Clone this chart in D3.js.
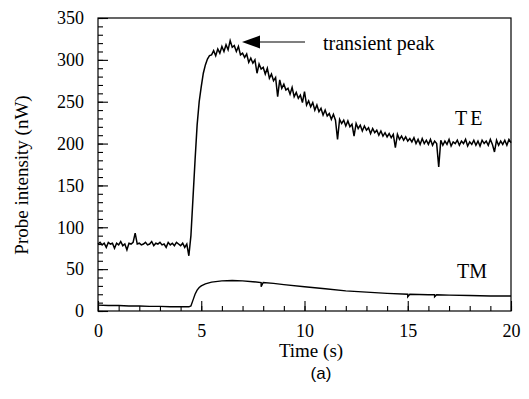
<html>
<head>
<script src="https://d3js.org/d3.v7.min.js"></script>
<style>
  body { margin: 0; background: white; }
  text { font-family: "Liberation Serif", "Times New Roman", serif; fill: black; }
</style>
</head>
<body>
<svg id="chart" width="529" height="399"></svg>
<script>
// TE probe, sampled every 0.1 s from 0 to 20 s
const teStep = 0.1;
const teValues = [
  80, 82, 79, 81, 76, 82, 80, 81, 75, 81,
  79, 83, 78, 80, 73, 81, 80, 82, 93, 80,
  81, 79, 80, 82, 79, 80, 83, 78, 81, 80,
  82, 79, 80, 76, 82, 79, 81, 78, 82, 80,
  78, 81, 76, 80, 66,
  90, 135, 180, 222, 250, 268, 284, 294, 301, 305,
  306, 311, 305, 313, 308, 316, 310, 318, 312,
  323, 315, 317, 310, 316, 306, 308, 303, 307, 297, 302,
  296, 300, 284, 295, 289, 291, 283, 290, 278, 283,
  275, 279, 256, 276, 266, 271, 264, 266, 259, 267,
  256, 261, 254, 258, 249, 262, 246, 251, 244, 249,
  240, 246, 238, 242, 234, 240, 233, 236, 229, 235,
  228, 205, 229, 224, 228, 221, 227, 220, 223, 209,
  224, 218, 222, 215, 221, 216, 219, 212, 218, 213,
  216, 210, 215, 209, 213, 208, 212, 207, 211, 195,
  211, 205, 209, 204, 208, 203, 206, 202, 207, 200,
  205, 199, 206, 200, 204, 199, 205, 198, 203, 200,
  172, 204, 198, 203, 199, 205, 197, 202, 200, 204,
  198, 203, 200, 205, 197, 202, 199, 204, 198, 203,
  197, 204, 200, 203, 198, 205, 199, 190, 204, 198,
  203, 199, 204, 198, 205, 201
];

// TM probe
const tmTime = [0, 0.5, 1, 1.5, 2, 2.5, 3, 3.5, 4, 4.4, 4.5, 4.6, 4.7, 4.8, 4.9, 5.0, 5.2, 5.5,
  6.0, 6.5, 7.0, 7.5, 7.9, 7.9, 8.0, 8.5, 9.0, 10, 11, 12, 13, 14, 15, 15, 15.1, 16, 16.3, 16.3, 16.4, 17, 18, 19, 20];
const tmValue = [7, 6.5, 6.5, 6, 6, 5.5, 5.5, 5, 5, 5, 6, 13, 20, 25, 28, 30, 32.5, 34.5,
  36, 36.5, 36, 35, 34, 29, 34, 33, 31.5, 29, 26.5, 24, 22.5, 21, 20, 17, 20, 19.5, 19.4, 17, 19.4, 19, 18.5, 18, 18];

const xMajor = [0, 5, 10, 15, 20];
const yMajor = [0, 50, 100, 150, 200, 250, 300, 350];

const svg = d3.select("#chart");
const plotLeft = 98, plotRight = 511, plotTop = 18, plotBottom = 311;

const x = d3.scaleLinear().domain([0, 20]).range([plotLeft, plotRight]);
const y = d3.scaleLinear().domain([0, 350]).range([plotBottom, plotTop]);

// frame
svg.append("rect")
  .attr("x", plotLeft).attr("y", plotTop)
  .attr("width", plotRight - plotLeft).attr("height", plotBottom - plotTop)
  .attr("fill", "none").attr("stroke", "black").attr("stroke-width", 1.2);

// minor ticks (inside)
svg.append("g")
  .attr("transform", "translate(0," + plotBottom + ")")
  .call(d3.axisBottom(x).tickValues(d3.range(0, 21, 1)).tickSize(-5).tickFormat(""))
  .call(g => g.select(".domain").remove());
svg.append("g")
  .attr("transform", "translate(" + plotLeft + ",0)")
  .call(d3.axisLeft(y).tickValues(d3.range(0, 351, 10)).tickSize(-5).tickFormat(""))
  .call(g => g.select(".domain").remove());

// major ticks with labels
let xAxis = svg.append("g")
  .attr("transform", "translate(0," + plotBottom + ")")
  .call(d3.axisBottom(x).tickValues(xMajor).tickSize(-10).tickPadding(13));
let yAxis = svg.append("g")
  .attr("transform", "translate(" + plotLeft + ",0)")
  .call(d3.axisLeft(y).tickValues(yMajor).tickSize(-10).tickPadding(14));
[xAxis, yAxis].forEach(g => {
  g.select(".domain").remove();
  g.selectAll("text").style("font-family", "Liberation Serif").style("font-size", "18px");
});
svg.selectAll(".tick line").attr("stroke-width", 1.1);

// curves
const teLine = d3.line().x((d, i) => x(i * teStep)).y(d => y(d));
svg.append("path")
  .attr("d", teLine(teValues))
  .attr("fill", "none").attr("stroke", "black").attr("stroke-width", 1.5);

const tmLine = d3.line().x((d, i) => x(tmTime[i])).y(d => y(d));
svg.append("path")
  .attr("d", tmLine(tmValue))
  .attr("fill", "none").attr("stroke", "black").attr("stroke-width", 1.4);

// annotations
svg.append("line")
  .attr("x1", 258).attr("y1", 42).attr("x2", 305).attr("y2", 42)
  .attr("stroke", "black").attr("stroke-width", 1.2);
svg.append("path")
  .attr("d", "M242,42 L260,35.5 L260,48.5 Z")
  .attr("fill", "black");
svg.append("text").attr("x", 323).attr("y", 50)
  .style("font-size", "20px").text("transient peak");

svg.append("text").attr("x", 455).attr("y", 125)
  .style("font-size", "20px").style("letter-spacing", "3px").text("TE");
svg.append("text").attr("x", 457).attr("y", 278)
  .style("font-size", "20px").text("TM");

// axis titles
svg.append("text")
  .attr("x", 311).attr("y", 357)
  .attr("text-anchor", "middle")
  .style("font-size", "19px").text("Time (s)");
svg.append("text")
  .attr("transform", "translate(28,175) rotate(-90)")
  .attr("text-anchor", "middle")
  .style("font-size", "19px").text("Probe intensity (nW)");
svg.append("text")
  .attr("x", 321).attr("y", 379)
  .attr("text-anchor", "middle")
  .style("font-family", "Liberation Sans, Arial, sans-serif")
  .style("font-size", "17px").text("(a)");
</script>
</body>
</html>
